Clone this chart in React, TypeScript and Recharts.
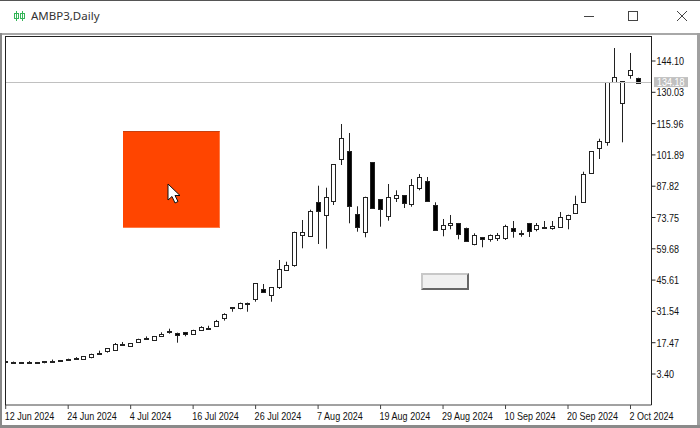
import { Bar, ComposedChart, ReferenceLine, XAxis, YAxis } from 'recharts';

const opens = [9.1, 9.0, 8.8, 8.5, 8.8, 9.1, 9.3, 9.5, 10.0, 10.5, 10.3, 11.18, 12.9, 13.74, 14.33, 16.8, 16.13, 17.66, 19.5, 18.7, 20.35, 22.5, 21.97, 22.3, 21.5, 23.2, 24.2, 25.1, 28.58, 33.4, 33.07, 35.5, 36.98, 41.48, 39.05, 42.65, 50.15, 52.54, 65.89, 65.44, 80.57, 75.01, 81.3, 100.18, 103.51, 75.33, 67.1, 98.57, 81.93, 74.56, 82.65, 83.73, 79.69, 87.15, 90.16, 79.24, 68.45, 70.25, 71.28, 69.17, 61.84, 65.0, 63.95, 64.67, 64.4, 68.9, 66.9, 71.28, 68.72, 69.48, 68.9, 69.35, 72.94, 75.91, 80.86, 93.89, 104.86, 107.55, 134.8, 125.22, 137.94, 136.59];
const highs = [9.1, 9.0, 8.8, 9.2, 8.8, 9.1, 9.9, 9.7, 10.3, 11.0, 11.4, 12.53, 13.9, 14.96, 17.34, 17.8, 17.2, 19.27, 20.3, 20.5, 22.15, 23.77, 22.0, 22.3, 23.3, 24.9, 25.1, 27.7, 30.7, 33.4, 35.5, 35.5, 44.2, 43.86, 42.4, 54.65, 53.88, 67.4, 72.63, 77.26, 88.05, 87.15, 97.7, 115.78, 111.74, 78.79, 83.1, 98.57, 81.93, 88.81, 85.98, 83.73, 91.06, 93.31, 91.96, 80.59, 73.08, 74.88, 71.3, 69.2, 66.65, 65.0, 66.1, 66.8, 70.5, 72.18, 68.0, 71.3, 71.28, 72.18, 72.18, 76.23, 75.01, 83.55, 94.34, 103.6, 109.17, 134.6, 149.94, 135.0, 147.7, 136.6];
const lows = [8.8, 8.8, 8.5, 8.5, 8.5, 8.2, 8.5, 9.4, 9.8, 10.4, 10.3, 10.46, 12.1, 13.0, 14.2, 16.0, 15.68, 17.66, 18.7, 18.7, 20.3, 21.52, 17.48, 20.35, 21.3, 22.9, 23.2, 24.7, 27.4, 31.4, 32.5, 31.4, 35.9, 40.4, 35.9, 41.6, 50.1, 51.64, 59.91, 65.4, 61.84, 59.73, 79.37, 97.35, 71.15, 67.37, 64.85, 78.02, 69.62, 72.32, 80.72, 78.02, 78.61, 85.98, 81.1, 68.1, 65.3, 68.45, 63.95, 63.1, 61.26, 60.36, 62.88, 63.2, 63.64, 64.67, 65.12, 65.0, 67.55, 68.58, 68.27, 69.3, 68.45, 75.9, 80.8, 93.62, 100.05, 106.03, 134.35, 107.55, 136.14, 134.3];
const closes = [8.8, 8.8, 8.5, 8.7, 8.5, 8.8, 9.4, 9.6, 10.1, 10.6, 11.36, 12.53, 13.0, 14.96, 16.76, 16.9, 17.2, 19.27, 19.6, 20.5, 21.39, 22.6, 21.07, 21.5, 23.05, 24.4, 24.3, 27.23, 30.51, 32.94, 35.46, 35.2, 44.18, 40.4, 42.38, 50.6, 52.27, 67.37, 67.24, 76.68, 76.81, 82.83, 97.67, 109.35, 78.92, 69.62, 83.1, 78.02, 77.71, 83.1, 84.0, 80.27, 88.5, 91.96, 81.17, 68.14, 70.38, 71.28, 66.34, 63.15, 66.02, 63.95, 66.02, 66.02, 70.07, 67.55, 66.95, 67.55, 70.25, 68.9, 70.07, 73.84, 75.01, 79.96, 93.17, 103.51, 108.14, 134.53, 137.04, 134.98, 140.19, 134.35];

const tickIndexes = [0, 8, 16, 24, 32, 40, 48, 56, 64, 72, 80];
const tickLabels = ['12 Jun 2024', '24 Jun 2024', '4 Jul 2024', '16 Jul 2024', '26 Jul 2024', '7 Aug 2024', '19 Aug 2024', '29 Aug 2024', '10 Sep 2024', '20 Sep 2024', '2 Oct 2024'];
const priceTicks = [3.4, 17.47, 31.54, 45.61, 59.68, 73.75, 87.82, 101.89, 115.96, 130.03, 144.1];
const lastPrice = 134.18;

const candles = opens.map((open, index) => ({
  index,
  open,
  close: closes[index],
  high: highs[index],
  low: lows[index],
  range: [lows[index], highs[index]],
}));

const AXIS_FONT = '"Liberation Sans", sans-serif';
// no narrow face installed, so the axis text is squeezed sideways to the terminal font's width
const SQUEEZE = 0.82;

// Bar gives the high-low box, open and close are placed inside it
function Candle(props: any) {
  const { x, y, width, height, payload } = props;
  const { open, close, high, low } = payload;
  const toY = (v: number) => y + ((high - v) / (high - low)) * height;
  const cx = Math.round(x + width / 2);
  const top = Math.round(toY(Math.max(open, close)));
  const bottom = Math.round(toY(Math.min(open, close)));
  const bearish = close < open;
  return (
    <g>
      <line x1={cx + 0.5} x2={cx + 0.5} y1={y} y2={y + height} stroke="#222" />
      <rect
        x={cx - 1.5}
        y={top + 0.5}
        width={4}
        height={Math.max(bottom - top, 1)}
        fill={bearish ? '#000' : '#fff'}
        stroke="#222"
      />
    </g>
  );
}

function AxisText({ x, y, fill = '#111', children }: any) {
  return (
    <text
      transform={`translate(${x},${y}) scale(${SQUEEZE},1)`}
      fontFamily={AXIS_FONT}
      fontSize={11}
      fill={fill}
    >
      {children}
    </text>
  );
}

function DateTick(props: any) {
  const { x, y, payload } = props;
  return (
    <AxisText x={x - 1} y={y + 9}>
      {tickLabels[tickIndexes.indexOf(payload.value)]}
    </AxisText>
  );
}

function PriceTick(props: any) {
  const { x, y, payload } = props;
  return (
    <AxisText x={x - 1} y={y + 4}>
      {payload.value.toFixed(2)}
    </AxisText>
  );
}

function PriceLine(props: any) {
  const y = Math.round(props.y1) - 0.5;
  return <line x1={props.x1} x2={props.x2} y1={y} y2={y} stroke="#c0c0c0" />;
}

function PriceTag(props: any) {
  const { viewBox } = props;
  const right = viewBox.x + viewBox.width;
  return (
    <g>
      <rect x={right + 2.5} y={viewBox.y - 6} width={34} height={10} fill="#c0c0c0" />
      <AxisText x={right + 5.5} y={viewBox.y + 3} fill="#fff">
        {lastPrice.toFixed(2)}
      </AxisText>
    </g>
  );
}

function TitleBar() {
  return (
    <div style={{ position: 'absolute', left: 0, top: 0, width: 700, height: 33, background: '#fff' }}>
      <svg width={700} height={33} style={{ position: 'absolute', left: 0, top: 0 }}>
        <line x1={0} x2={700} y1={0.5} y2={0.5} stroke="#555" />
        <g stroke="#35b558" fill="none">
          <line x1={16.5} x2={16.5} y1={11} y2={21} />
          <rect x={14.5} y={13.5} width={4} height={5} />
          <line x1={22.5} x2={22.5} y1={11} y2={21} />
          <rect x={20.5} y={13.5} width={4} height={5} />
        </g>
        <g stroke="#444" fill="none">
          <line x1={584} x2={594} y1={16.5} y2={16.5} />
          <rect x={628.5} y={11.5} width={9} height={9} />
          <line x1={677} x2={687} y1={11} y2={21} />
          <line x1={687} x2={677} y1={11} y2={21} />
        </g>
      </svg>
      <div style={{ position: 'absolute', left: 31, top: 8, fontFamily: '"Noto Sans", sans-serif', fontSize: 11.5, lineHeight: '16px', color: '#333' }}>
        AMBP3,Daily
      </div>
    </div>
  );
}

export default function App() {
  return (
    <div style={{ position: 'fixed', left: 0, top: 0, width: 700, height: 428, background: '#f0f0f0', overflow: 'hidden' }}>
      <div style={{ position: 'absolute', left: 1, top: 33, width: 696, height: 392, background: '#fff', borderTop: '2px solid #a8a8a8', boxSizing: 'border-box' }} />
      <div style={{ position: 'absolute', left: 0, top: 32, width: 2, height: 396, background: '#888' }} />
      <div style={{ position: 'absolute', left: 697, top: 32, width: 3, height: 396, background: '#a0a0a0' }} />
      <div style={{ position: 'absolute', left: 0, top: 425, width: 700, height: 3, background: '#8a8a8a' }} />
      <TitleBar />

      <ComposedChart
        width={700}
        height={428}
        data={candles}
        margin={{ top: 36, right: 0, bottom: 0, left: 5 }}
        style={{ position: 'absolute', left: 0, top: 0 }}
      >
        <XAxis
          dataKey="index"
          type="number"
          domain={[-0.09, 82.69]}
          ticks={tickIndexes}
          tick={<DateTick />}
          tickSize={4}
          stroke="#444"
          height={23}
        />
        <YAxis
          orientation="right"
          type="number"
          domain={[-10.53, 155.34]}
          ticks={priceTicks}
          tick={<PriceTick />}
          tickSize={4}
          stroke="#222"
          width={48.5}
          interval={0}
        />
        <ReferenceLine y={lastPrice} shape={<PriceLine />} label={<PriceTag />} />
        <Bar dataKey="range" barSize={5} shape={<Candle />} isAnimationActive={false} />
      </ComposedChart>

      {/* first candle is cut by the chart's left edge */}
      <div style={{ position: 'absolute', left: 2, top: 37, width: 3, height: 368, background: '#fff' }} />
      {/* chart frame top and left */}
      <div style={{ position: 'absolute', left: 5, top: 36, width: 647, height: 1, background: '#222' }} />
      <div style={{ position: 'absolute', left: 5, top: 36, width: 1, height: 369, background: '#222' }} />

      {/* objects placed on the chart */}
      <div style={{ position: 'absolute', left: 123, top: 131, width: 97, height: 97, background: '#ff4500', borderTop: '1px solid #c8400f', borderRight: '1px solid #ff7a45', borderBottom: '1px solid #ff7a45', boxSizing: 'border-box' }} />
      <svg width={20} height={24} style={{ position: 'absolute', left: 166, top: 183 }}>
        <path d="M2 1 L2 17 L6 13.5 L9 20 L12 18.5 L9 12.5 L14 12.5 Z" fill="#fff" stroke="#111" />
      </svg>
      <div style={{ position: 'absolute', left: 421, top: 273, width: 48, height: 17, background: '#f0f0f0', boxSizing: 'border-box', border: '2px solid', borderColor: '#c8c8c8 #666 #666 #c8c8c8' }} />
    </div>
  );
}
